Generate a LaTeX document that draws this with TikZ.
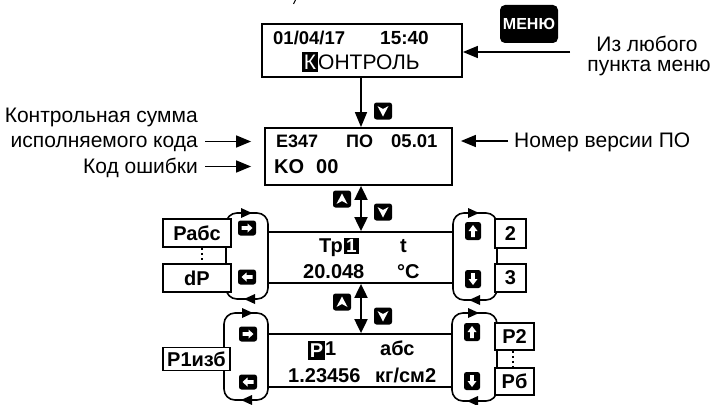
\documentclass[tikz,border=0pt]{standalone}
\usepackage{fontspec}
\setmainfont{Liberation Sans}
\usetikzlibrary{arrows.meta}
\newcommand\myRtip[2]{\fill (#1-5,#2-5) -- (#1+6,#2) -- (#1-5,#2+5) -- cycle;}
\newcommand\myLtip[2]{\fill (#1+5,#2-5) -- (#1-6,#2) -- (#1+5,#2+5) -- cycle;}
\tikzset{
  dispbox/.style={draw, line width=1.8pt, fill=white, inner sep=0pt},
  sidebox/.style={draw, line width=1.6pt, fill=white, inner sep=0pt, font=\bfseries\fontsize{20}{22}\selectfont},
  bt/.style={inner sep=0pt, anchor=base west, font=\bfseries\fontsize{20}{22}\selectfont},
  lt/.style={inner sep=0pt, font=\fontsize{21}{24}\selectfont},
  hl/.style={fill=black, text=white, inner sep=0pt},
  loopln/.style={line width=1.6pt, rounded corners=11pt},
  conn/.style={line width=1.6pt, -{Triangle[length=15pt,width=12pt]}},
  dbl/.style={line width=2pt, {Triangle[length=14pt,width=13pt]}-{Triangle[length=14pt,width=13pt]}},
  dots/.style={line width=1.8pt, dash pattern=on 2pt off 3pt},
  ic/.style={fill=black, rounded corners=2.5pt},
  dnv/.pic={\fill[ic] (-9,-8.5) rectangle (9,8.5);
    \fill[white] (-5.5,-5) -- (0,5.5) -- (5.5,-5) -- (0,-2) -- cycle;},
  upv/.pic={\fill[ic] (-9,-8.5) rectangle (9,8.5);
    \fill[white] (-5.5,5) -- (0,-5.5) -- (5.5,5) -- (0,2) -- cycle;},
  rta/.pic={\fill[ic] (-9,-7.5) rectangle (9,7.5);
    \fill[white] (-5.5,-1.8) -- (0.5,-1.8) -- (0.5,-4.5) -- (5.5,0) -- (0.5,4.5) -- (0.5,1.8) -- (-5.5,1.8) -- cycle;},
  lta/.pic={\fill[ic] (-9,-7.5) rectangle (9,7.5);
    \fill[white] (5.5,-1.8) -- (-0.5,-1.8) -- (-0.5,-4.5) -- (-5.5,0) -- (-0.5,4.5) -- (-0.5,1.8) -- (5.5,1.8) -- cycle;},
  upa/.pic={\fill[ic] (-8,-9) rectangle (8,9);
    \fill[white] (-1.8,6) -- (-1.8,0) -- (-4.5,0) -- (0,-6) -- (4.5,0) -- (1.8,0) -- (1.8,6) -- cycle;},
  dna/.pic={\fill[ic] (-8,-9) rectangle (8,9);
    \fill[white] (-1.8,-6) -- (-1.8,0) -- (-4.5,0) -- (0,6) -- (4.5,0) -- (1.8,0) -- (1.8,-6) -- cycle;},
}
\begin{document}
\begin{tikzpicture}[x=1pt,y=-1pt]
\useasboundingbox (0,0) rectangle (711,404);
\draw[line width=1pt] (295.5,0) -- (293.5,4);

% loops
\draw[loopln] (226,213) rectangle (268,299);
\myRtip{246}{213} \myLtip{250}{299}
\draw[loopln] (453,213) rectangle (497,300);
\myRtip{473}{213} \myLtip{475}{300}
\draw[loopln] (224,313) rectangle (268,400);
\myRtip{247}{313} \myLtip{247}{400}
\draw[loopln] (452,313) rectangle (497,401);
\myRtip{473}{313} \myLtip{473}{401}

% display boxes
\node[dispbox, minimum width=200, minimum height=53] (b1) at (362,50.5) {};
\node[dispbox, minimum width=187, minimum height=57] (b2) at (358.5,156.5) {};
\node[dispbox, minimum width=185, minimum height=51] (b3) at (360.5,257.5) {};
\node[dispbox, minimum width=184, minimum height=53] (b4) at (360,360.5) {};

% box 1 text
\node[bt, font=\bfseries\fontsize{18.5}{20}\selectfont] (t1a) at (273,45) {01/04/17};
\node[bt, font=\bfseries\fontsize{19}{20}\selectfont] (t1b) at (380,45) {15:40};
\node[hl, minimum width=16, minimum height=20, font=\fontsize{21}{24}\selectfont] (t1k) at (310,62) {К};
\node[inner sep=0pt, anchor=base west, font=\fontsize{21}{24}\selectfont] (t1c) at (318,70) {ОНТРОЛЬ};

% box 2 text
\node[bt, font=\bfseries\fontsize{18}{20}\selectfont] (t2a) at (276,147) {E347};
\node[bt, font=\bfseries\fontsize{18}{20}\selectfont] (t2b) at (346,147) {ПО};
\node[bt, font=\bfseries\fontsize{18.5}{20}\selectfont] (t2c) at (391,147) {05.01};
\node[bt] (t2d) at (274,173) {KO};
\node[bt] (t2e) at (316,173) {00};

% box 3 text
\node[bt, anchor=base east] (t3a) at (343,252) {Тр};
\node[hl, minimum width=15, minimum height=16, font=\bfseries\fontsize{19}{20}\selectfont] (t3h) at (351.5,245.5) {1};
\node[bt] (t3b) at (400,252) {t};
\node[bt] (t3c) at (303,278) {20.048};
\node[bt] (t3d) at (397,278) {°C};

% box 4 text
\node[hl, minimum width=17, minimum height=19, font=\bfseries\fontsize{20}{22}\selectfont] (t4h) at (316.5,350.5) {P};
\node[bt] (t4a) at (325,355) {1};
\node[bt] (t4b) at (380,355) {абс};
\node[bt] (t4c) at (288,382) {1.23456};
\node[bt] (t4d) at (375,382) {кг/см2};

% side boxes
\node[sidebox, minimum width=68, minimum height=28] (rabs) at (197,233) {Рабс};
\node[sidebox, minimum width=68, minimum height=28] (dp) at (197,278) {dP};
\draw[dots] ([xshift=5pt]rabs.south) -- ([xshift=5pt]dp.north);
\node[sidebox, minimum width=31, minimum height=29] (n2) at (510.5,233.5) {2};
\node[sidebox, minimum width=31, minimum height=28] (n3) at (510.5,278) {3};
\node[sidebox, minimum width=67, minimum height=23] (p1i) at (196.5,359) {Р1изб};
\node[sidebox, minimum width=39, minimum height=27] (p2) at (514.5,336.5) {Р2};
\node[sidebox, minimum width=39, minimum height=27] (p6) at (514.5,381.5) {Рб};
\draw[dots] ([xshift=-1.5pt]p2.south) -- ([xshift=-1.5pt]p6.north);

% icons
\pic at (247,228) {rta};
\pic at (247,277) {lta};
\pic at (473,231) {upa};
\pic at (473,279) {dna};
\pic at (248,334) {rta};
\pic at (248,382) {lta};
\pic at (472,332) {upa};
\pic at (472,381) {dna};
\pic at (383,111) {dnv};
\pic at (342,199) {upv};
\pic at (383,212) {dnv};
\pic at (342,302) {upv};
\pic at (383,316) {dnv};

% menu button
\node[fill=black, rounded corners=5pt, minimum width=58, minimum height=38, text=white, inner sep=0pt,
      font=\bfseries\fontsize{16}{18}\selectfont] (menu) at (529,24) {МЕНЮ};

% labels
\node[lt, anchor=base] (lm1) at (647,52) {Из любого};
\node[lt, anchor=base] (lm2) at (649,71) {пункта меню};
\node[lt, anchor=base east] (la1) at (198,122) {Контрольная сумма};
\node[lt, anchor=base east] (la2) at (198,147) {исполняемого кода};
\node[lt, anchor=base east] (la3) at (198,173) {Код ошибки};
\node[lt, anchor=base west] (lr) at (514,147) {Номер версии ПО};

% connectors
\coordinate (ma) at (570,52);
\draw[conn] (ma) -- (b1.east |- ma);
\coordinate (ax) at (361,0);
\draw[conn] (b1.south -| ax) -- (b2.north -| ax);
\draw[dbl] (b2.south -| ax) -- (b3.north -| ax);
\draw[dbl] (b3.south -| ax) -- (b4.north -| ax);
\coordinate (c1) at (205,141.5);
\coordinate (c2) at (205,166.5);
\coordinate (c3) at (508,141);
\draw[conn, shorten >=13pt] (c1) -- (b2.west |- c1);
\draw[conn, shorten >=13pt] (c2) -- (b2.west |- c2);
\draw[conn, shorten >=8pt] (c3) -- (b2.east |- c3);
\end{tikzpicture}
\end{document}
